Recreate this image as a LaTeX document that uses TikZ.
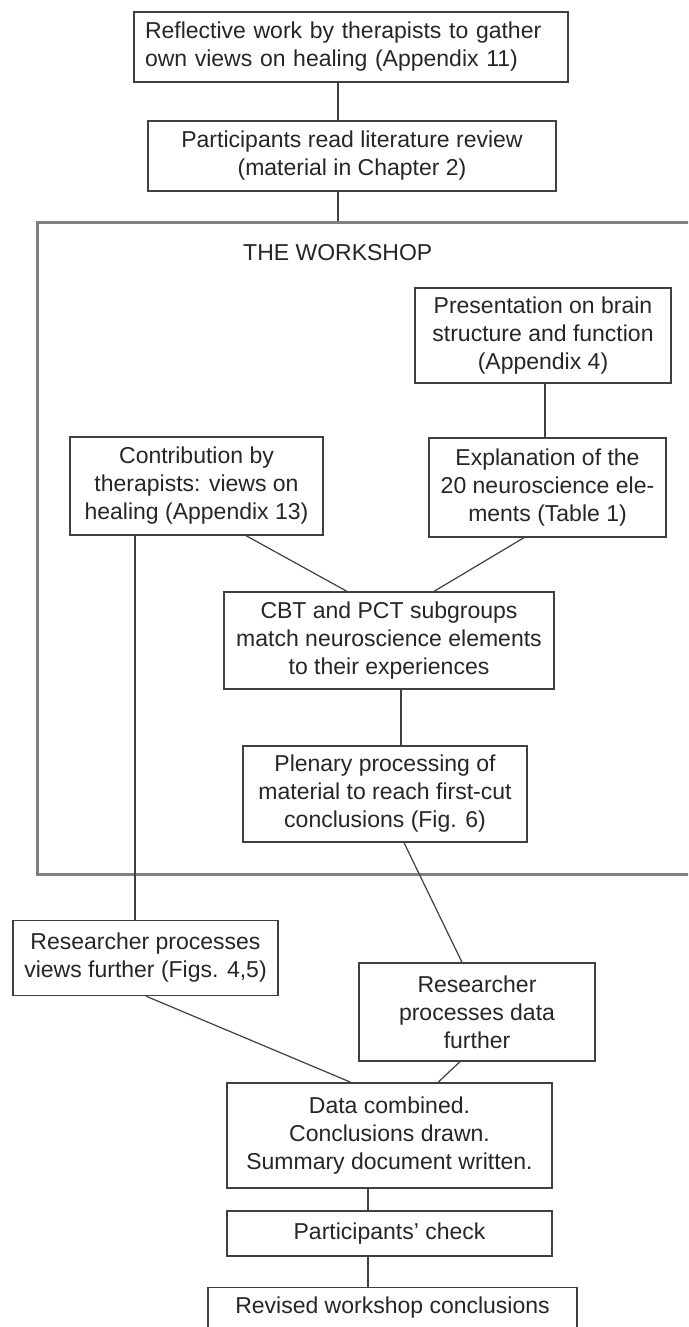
\documentclass[tikz,border=0pt]{standalone}
\usepackage{fontspec}
\setmainfont{Liberation Sans}
\begin{document}
\begin{tikzpicture}[x=1pt,y=-1pt,
  txt/.style={text=black!85, font=\fontsize{23}{28}\selectfont},
  box/.style={txt, draw=black!75, line width=1.3pt, inner sep=0pt, align=center},
  link/.style={draw=black!75, line width=1.2pt},
  frame/.style={draw=black!50, line width=3pt, inner sep=0pt}]
\useasboundingbox (0,0) rectangle (688,1327);
\clip (0,0) rectangle (688,1327);
\fill[white] (0,0) rectangle (688,1327);

\node[box, align=left, text width=412pt, inner xsep=11pt, minimum height=70pt] (b1) at (351,47) {Reflective work by therapists to gather\\own views on healing (Appendix 11)};
\node[box, minimum width=408pt, minimum height=70pt] (b2) at (352,156) {Participants read literature review\\(material in Chapter 2)};
\node[frame, minimum width=683pt, minimum height=652pt] (ws) at (378.5,548) {};
\node[txt, anchor=west, inner sep=0pt] (title) at (243,253) {THE WORKSHOP};
\node[box, minimum width=256pt, minimum height=95pt] (pres) at (543,335.5) {Presentation on brain\\structure and function\\(Appendix 4)};
\node[box, minimum width=237pt, minimum height=99pt] (expl) at (547.5,487.5) {Explanation of the\\20 neuroscience ele-\\ments (Table 1)};
\node[box, minimum width=253pt, minimum height=98pt] (contr) at (196.5,486) {Contribution by\\therapists: views on\\healing (Appendix 13)};
\node[box, minimum width=330pt, minimum height=97pt] (cbt) at (389,640.5) {CBT and PCT subgroups\\match neuroscience elements\\to their experiences};
\node[box, minimum width=284pt, minimum height=96pt] (plen) at (385,794) {Plenary processing of\\material to reach first-cut\\conclusions (Fig. 6)};
\node[box, minimum width=265pt, minimum height=75pt] (r1) at (145.5,958) {Researcher processes\\views further (Figs. 4,5)};
\node[box, minimum width=236pt, minimum height=98pt] (r2) at (477,1012) {Researcher\\processes data\\further};
\node[box, minimum width=325pt, minimum height=105pt] (data) at (389.5,1135.5) {Data combined.\\Conclusions drawn.\\Summary document written.};
\node[box, minimum width=325pt, minimum height=45pt] (check) at (389.5,1233.5) {Participants’ check};
\node[box, anchor=north, minimum width=369pt, text height=20pt, text depth=40pt, inner ysep=6pt] (rev) at (392.5,1287) {Revised workshop conclusions};

\draw[link] (b1.south -| 338,0) -- (b2.north -| 338,0);
\draw[link] (b2.south -| 338,0) -- (ws.north -| 338,0);
\draw[link] (pres.south -| 545,0) -- (expl.north -| 545,0);
\draw[link] (contr.south -| 246,0) -- (cbt.north -| 347,0);
\draw[link] (expl.south -| 524,0) -- (cbt.north -| 434,0);
\draw[link] (contr.south -| 135,0) -- (r1.north -| 135,0);
\draw[link] (cbt.south -| 401,0) -- (plen.north -| 401,0);
\draw[link] (plen.south -| 404,0) -- (r2.north -| 462,0);
\draw[link] (r1.south -| 146,0) -- (data.north -| 351,0);
\draw[link] (r2.south -| 460,0) -- (data.north -| 438,0);
\draw[link] (data.south -| 368,0) -- (check.north -| 368,0);
\draw[link] (check.south -| 368,0) -- (rev.north -| 368,0);
\end{tikzpicture}
\end{document}
